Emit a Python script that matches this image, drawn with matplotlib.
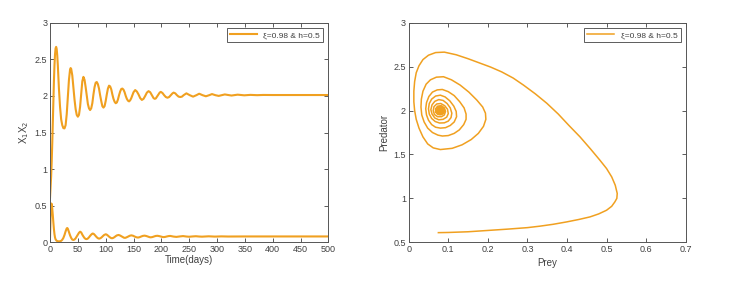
import matplotlib
matplotlib.use('Agg')
import matplotlib.pyplot as plt
from matplotlib.ticker import FormatStrFormatter, MultipleLocator

plt.rcParams['font.family'] = ['Liberation Sans', 'DejaVu Sans']

# predator x2(t)
pred_t = [0, 1, 2, 3, 4, 5, 6, 7, 8, 9, 10, 11, 12, 13, 14, 16, 18, 20, 22, 24, 26, 28, 30, 32, 34,
          36, 37, 38, 40, 42, 44, 46, 48, 50, 52, 54, 56, 58, 60, 62, 64, 66, 68, 70, 72, 74, 76,
          78, 80, 82, 84, 86, 88, 90, 92, 94, 96, 98, 100, 102, 104, 106, 108, 110, 112, 114, 116,
          118, 120, 122, 124, 126, 128, 130, 132, 134, 136, 138, 140, 142, 144, 146, 148, 150, 153,
          156, 159, 162, 165, 168, 171, 174, 177, 180, 183, 186, 188, 190, 194, 197, 199, 202, 205,
          208, 211, 214, 217, 220, 222, 225, 228, 231, 234, 237, 240, 245, 251, 257, 263, 268, 274,
          280, 286, 291, 297, 303, 314, 326, 337, 349, 360, 372, 383, 400, 500]
pred_x = [0.61, 0.75, 0.9, 1.1, 1.35, 1.65, 1.95, 2.2, 2.42, 2.57, 2.65, 2.67, 2.64, 2.55, 2.42, 2.1,
          1.85, 1.68, 1.6, 1.56, 1.556, 1.6, 1.75, 1.98, 2.22, 2.36, 2.38, 2.37, 2.28, 2.12, 1.95,
          1.82, 1.74, 1.716, 1.74, 1.85, 2.03, 2.2, 2.26, 2.22, 2.12, 2.0, 1.89, 1.83, 1.807, 1.83,
          1.9, 2.02, 2.12, 2.18, 2.19, 2.16, 2.1, 2.01, 1.93, 1.86, 1.84, 1.86, 1.93, 2.02, 2.1,
          2.14, 2.13, 2.09, 2.02, 1.96, 1.92, 1.9, 1.91, 1.95, 2.01, 2.06, 2.095, 2.1, 2.085, 2.05,
          2.0, 1.96, 1.935, 1.925, 1.94, 1.97, 2.01, 2.05, 2.08, 2.06, 2.02, 1.97, 1.945, 1.96, 2.0,
          2.045, 2.065, 2.05, 2.01, 1.97, 1.96, 1.965, 2.01, 2.045, 2.055, 2.04, 2.01, 1.985, 1.975,
          1.985, 2.01, 2.035, 2.045, 2.035, 2.01, 1.99, 1.985, 1.99, 2.01, 2.035, 2.01, 1.99, 2.01,
          2.03, 2.01, 1.995, 2.01, 2.025, 2.01, 2.0, 2.02, 2.005, 2.017, 2.008, 2.014, 2.01, 2.013,
          2.012, 2.012]

# prey x1(t)
prey_t = [0, 0.5, 1, 1.5, 2, 2.5, 3, 4, 5, 6, 7, 8, 9, 10, 12, 15, 18, 20, 22, 24, 26, 28, 30, 31,
          32, 34, 36, 38, 40, 42, 44, 46, 48, 50, 52, 54, 56, 58, 60, 62, 64, 66, 68, 70, 72, 74,
          76, 77, 79, 81, 83, 85, 87, 89, 91, 93, 95, 97, 100, 102, 104, 106, 108, 110, 112, 114,
          116, 118, 120, 123, 125, 127, 130, 133, 135, 137, 140, 143, 146, 149, 152, 155, 158, 161,
          164, 167, 170, 173, 176, 179, 181, 184, 187, 190, 193, 196, 199, 202, 204, 207, 210, 213,
          216, 222, 227, 233, 239, 245, 250, 256, 262, 268, 273, 285, 296, 308, 320, 350, 500]
prey_x = [0.075, 0.2, 0.33, 0.44, 0.5, 0.53, 0.52, 0.46, 0.37, 0.27, 0.18, 0.11, 0.065, 0.04, 0.02,
          0.013, 0.014, 0.02, 0.035, 0.06, 0.1, 0.15, 0.19, 0.195, 0.185, 0.14, 0.095, 0.06, 0.037,
          0.032, 0.038, 0.055, 0.08, 0.105, 0.13, 0.145, 0.135, 0.105, 0.08, 0.058, 0.046, 0.044,
          0.052, 0.068, 0.088, 0.105, 0.118, 0.12, 0.112, 0.095, 0.077, 0.062, 0.052, 0.051, 0.058,
          0.07, 0.085, 0.099, 0.11, 0.104, 0.092, 0.078, 0.066, 0.057, 0.056, 0.062, 0.072, 0.084,
          0.094, 0.1, 0.096, 0.088, 0.075, 0.062, 0.061, 0.066, 0.077, 0.089, 0.095, 0.09, 0.079,
          0.069, 0.065, 0.07, 0.08, 0.088, 0.091, 0.086, 0.078, 0.07, 0.068, 0.072, 0.08, 0.087,
          0.089, 0.085, 0.079, 0.073, 0.071, 0.074, 0.08, 0.085, 0.087, 0.078, 0.074, 0.08, 0.085,
          0.079, 0.076, 0.08, 0.083, 0.079, 0.077, 0.082, 0.078, 0.081, 0.079, 0.08, 0.08]

# phase trajectory (prey, predator)
phase_prey = [0.075, 0.1, 0.15, 0.2, 0.25, 0.3, 0.332, 0.365, 0.399, 0.43, 0.458, 0.48, 0.5, 0.513,
              0.521, 0.526, 0.527, 0.522, 0.513, 0.5, 0.483, 0.46, 0.433, 0.405, 0.378, 0.349,
              0.32, 0.29, 0.264, 0.235, 0.207, 0.18, 0.15, 0.12, 0.09, 0.068, 0.05, 0.036, 0.026,
              0.019, 0.015, 0.013, 0.013, 0.015, 0.019, 0.026, 0.036, 0.048, 0.062, 0.08,
              0.11, 0.135, 0.158, 0.176, 0.189, 0.195, 0.194, 0.187, 0.172, 0.152, 0.13, 0.108,
              0.088, 0.07, 0.055, 0.044, 0.036, 0.032, 0.031, 0.033, 0.039, 0.048, 0.06, 0.074, 0.085,
              0.1, 0.115, 0.128, 0.139, 0.145, 0.145, 0.14, 0.129, 0.115, 0.1, 0.085, 0.072, 0.06,
              0.051, 0.045, 0.043, 0.045, 0.05, 0.058, 0.068, 0.08,
              0.093, 0.105, 0.115, 0.121, 0.12, 0.114, 0.104, 0.092, 0.08, 0.068, 0.058, 0.052,
              0.05, 0.052, 0.058, 0.067, 0.078, 0.09,
              0.1, 0.107, 0.109, 0.105, 0.097, 0.087, 0.076, 0.066, 0.059, 0.056, 0.059, 0.066,
              0.076, 0.087,
              0.096, 0.1, 0.098, 0.091, 0.081, 0.071, 0.064, 0.062, 0.065, 0.073, 0.083,
              0.09, 0.093, 0.09, 0.082, 0.073, 0.068, 0.068, 0.074, 0.082,
              0.087, 0.087, 0.081, 0.074, 0.073, 0.078, 0.083, 0.08, 0.077]
phase_pred = [0.61, 0.612, 0.62, 0.635, 0.65, 0.667, 0.684, 0.705, 0.732, 0.76, 0.789, 0.823, 0.865,
              0.91, 0.96, 1.0, 1.056, 1.15, 1.245, 1.34, 1.436, 1.56, 1.70, 1.83, 1.96, 2.083,
              2.19, 2.29, 2.37, 2.44, 2.495, 2.54, 2.59, 2.635, 2.665, 2.66, 2.63, 2.58, 2.51,
              2.43, 2.33, 2.22, 2.1, 2.0, 1.9, 1.8, 1.7, 1.62, 1.575, 1.556,
              1.57, 1.61, 1.67, 1.74, 1.82, 1.9, 1.97, 2.04, 2.12, 2.21, 2.29, 2.35, 2.385, 2.38,
              2.35, 2.3, 2.22, 2.13, 2.04, 1.95, 1.87, 1.8, 1.75, 1.72, 1.71,
              1.715, 1.74, 1.78, 1.84, 1.9, 1.96, 2.03, 2.1, 2.17, 2.215, 2.24, 2.235, 2.21, 2.16,
              2.09, 2.02, 1.95, 1.89, 1.84, 1.81, 1.80,
              1.805, 1.83, 1.87, 1.93, 1.99, 2.05, 2.11, 2.155, 2.175, 2.165, 2.13, 2.08, 2.02,
              1.96, 1.91, 1.875, 1.858, 1.86,
              1.88, 1.92, 1.97, 2.03, 2.08, 2.115, 2.125, 2.105, 2.065, 2.01, 1.96, 1.915, 1.895,
              1.9,
              1.925, 1.965, 2.015, 2.055, 2.08, 2.075, 2.045, 2.0, 1.955, 1.93, 1.93,
              1.95, 1.99, 2.03, 2.055, 2.05, 2.02, 1.98, 1.955, 1.955,
              1.975, 2.01, 2.03, 2.02, 1.99, 1.975, 1.99, 2.01, 2.0]

label = 'ξ=0.98 & h=0.5'
orange = '#F0A020'
txt = '#404040'


def style(ax):
    ax.tick_params(direction='in', top=True, right=True, length=3, width=0.6,
                   labelsize=6.5, colors=txt, pad=2)
    for s in ax.spines.values():
        s.set_linewidth(0.7)
        s.set_color('#555555')
    ax.yaxis.set_major_formatter(FormatStrFormatter('%g'))
    ax.xaxis.set_major_formatter(FormatStrFormatter('%g'))
    leg = ax.legend(loc='upper right', fontsize=6, frameon=True, fancybox=False,
                    handlelength=3.2, borderaxespad=0.6, borderpad=0.4, labelcolor=txt)
    leg.get_frame().set_edgecolor('#333333')
    leg.get_frame().set_linewidth(0.7)


fig = plt.figure(figsize=(7.4, 2.81), dpi=100)

ax1 = fig.add_axes([0.0676, 0.1377, 0.3761, 0.7815])
ax1.plot(pred_t, pred_x, color=orange, lw=1.5, label=label)
ax1.plot(prey_t, prey_x, color=orange, lw=1.5)
ax1.set_xlim(0, 500)
ax1.set_ylim(0, 3)
ax1.xaxis.set_major_locator(MultipleLocator(50))
ax1.yaxis.set_major_locator(MultipleLocator(0.5))
ax1.set_xlabel('Time(days)', fontsize=7, color=txt, labelpad=1)
ax1.set_ylabel('X$_1$X$_2$', fontsize=7, color=txt, labelpad=3)
style(ax1)

ax2 = fig.add_axes([0.5523, 0.1377, 0.3743, 0.7815])
ax2.plot(phase_prey, phase_pred, color=orange, lw=1.1, label=label)
ax2.plot([0.078], [2.003], 'o', color=orange, ms=6)
ax2.set_xlim(0, 0.7)
ax2.set_ylim(0.5, 3)
ax2.xaxis.set_major_locator(MultipleLocator(0.1))
ax2.yaxis.set_major_locator(MultipleLocator(0.5))
ax2.set_xlabel('Prey', fontsize=7, color=txt, labelpad=3)
ax2.set_ylabel('Predator', fontsize=7, color=txt, labelpad=3)
style(ax2)

fig.savefig('out.png', dpi=100)
